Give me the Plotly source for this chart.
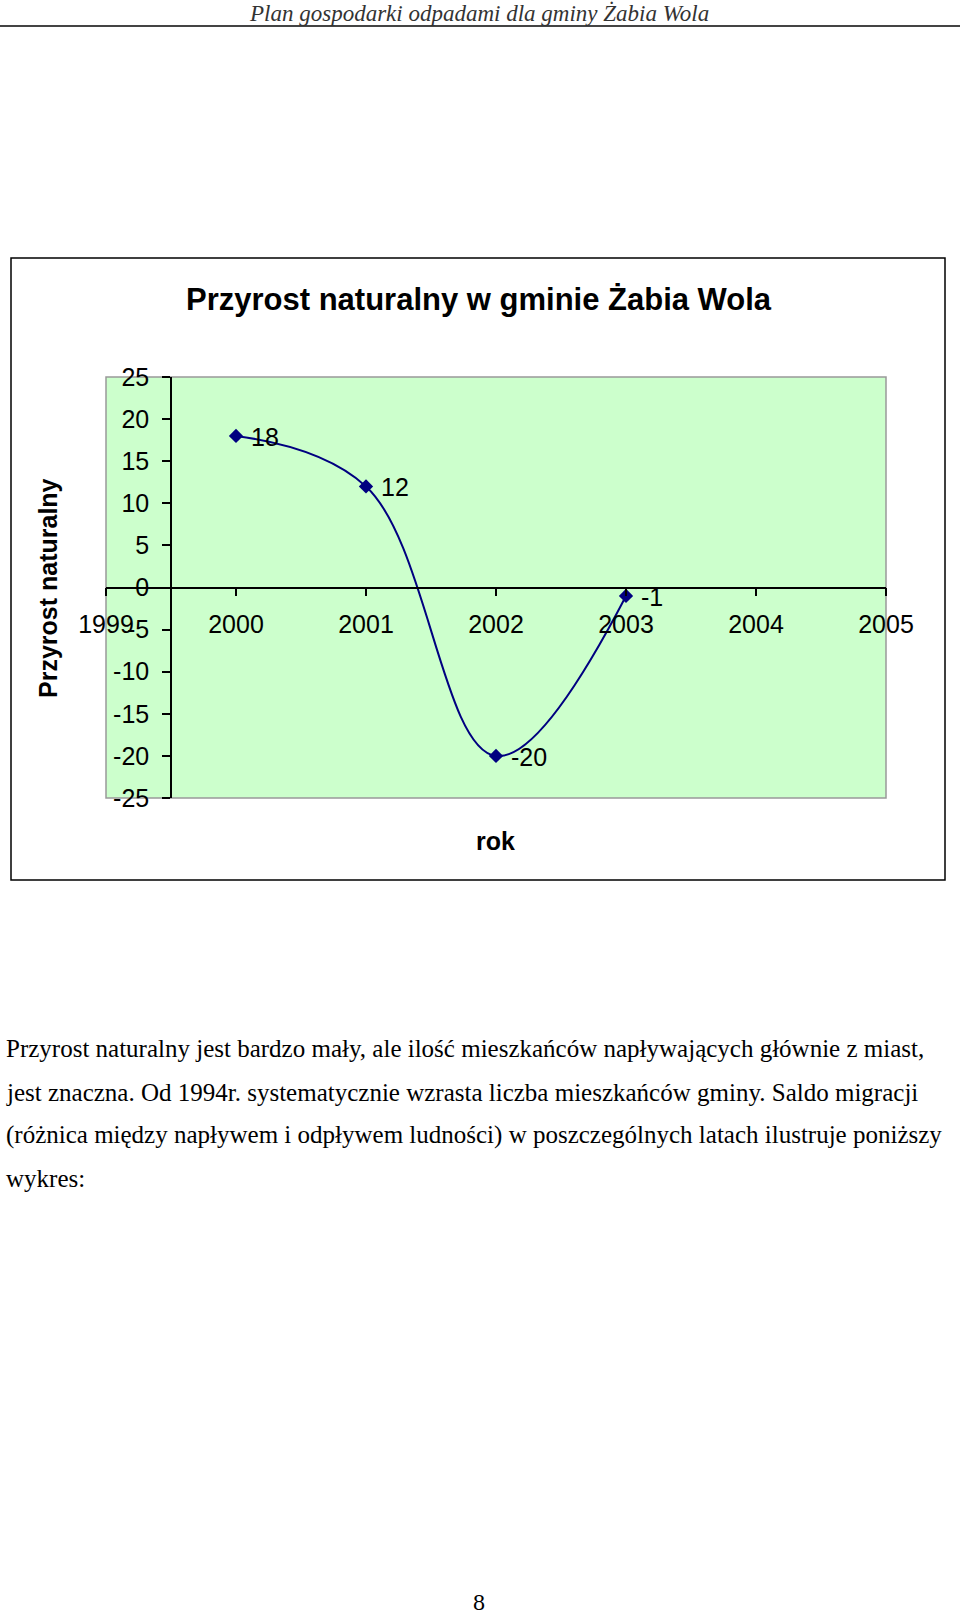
import plotly.graph_objects as go

# ---- data ----
years = [2000, 2001, 2002, 2003]
values = [18, 12, -20, -1]
x_ticks = [1999, 2000, 2001, 2002, 2003, 2004, 2005]
y_ticks = [-25, -20, -15, -10, -5, 0, 5, 10, 15, 20, 25]
chart_title = "Przyrost naturalny w gminie Żabia Wola"
y_title = "Przyrost naturalny"
x_title = "rok"
header = "Plan gospodarki odpadami dla gminy Żabia Wola"
paragraph = [
    "Przyrost naturalny jest bardzo mały, ale ilość mieszkańców napływających głównie z miast,",
    "jest znaczna. Od 1994r. systematycznie wzrasta liczba mieszkańców gminy. Saldo migracji",
    "(różnica między napływem i odpływem ludności) w poszczególnych latach ilustruje poniższy",
    "wykres:",
]
page_no = "8"

W, H = 960, 1617


def px(x):
    return x / W


def py(y):
    return 1 - y / H


x_dom = [px(106), px(886)]
y_dom = [py(798), py(377)]
x_range = [1999, 2005]
y_range = [-25, 25]
y_cross_x = 1999.5  # value axis crosses category axis here

y_axis_pos = x_dom[0] + (y_cross_x - x_range[0]) / (x_range[1] - x_range[0]) * (x_dom[1] - x_dom[0])
x_axis_pos = y_dom[0] + (0 - y_range[0]) / (y_range[1] - y_range[0]) * (y_dom[1] - y_dom[0])

ARIAL = "Arial, Liberation Sans, sans-serif"
SERIF = "Times New Roman, Liberation Serif, serif"

fig = go.Figure()
fig.add_trace(go.Scatter(
    x=years, y=values,
    mode="lines+markers",
    line=dict(color="#000080", width=2, shape="spline", smoothing=1.1),
    marker=dict(symbol="diamond", size=11, color="#000080"),
    cliponaxis=False,
    showlegend=False,
))

fig.update_layout(
    width=W, height=H,
    autosize=False,
    margin=dict(l=0, r=0, t=0, b=0, pad=0, autoexpand=False),
    paper_bgcolor="white",
    plot_bgcolor="#ccffcc",
    showlegend=False,
    xaxis=dict(
        domain=x_dom, range=x_range, automargin=False,
        tickmode="array", tickvals=x_ticks, ticktext=[str(v) for v in x_ticks],
        showgrid=False, zeroline=False,
        showline=True, linecolor="black", linewidth=1.5,
        ticks="outside", ticklen=8, tickcolor="black", tickwidth=1.5,
        anchor="free", position=x_axis_pos,
        ticklabelstandoff=7,
        tickfont=dict(family=ARIAL, size=25, color="black"),
    ),
    yaxis=dict(
        domain=y_dom, range=y_range, automargin=False,
        tickmode="array", tickvals=y_ticks, ticktext=[str(v) for v in y_ticks],
        showgrid=False, zeroline=False,
        showline=True, linecolor="black", linewidth=1.5,
        ticks="outside", ticklen=8, tickcolor="black", tickwidth=1.5,
        anchor="free", position=y_axis_pos,
        ticklabelstandoff=8,
        tickfont=dict(family=ARIAL, size=25, color="black"),
    ),
)

shapes = [
    # header rule
    dict(type="line", xref="paper", yref="paper", x0=0, x1=1, y0=py(26), y1=py(26),
         line=dict(color="#444444", width=2)),
    # chart outer border
    dict(type="rect", xref="paper", yref="paper", x0=px(11), x1=px(945), y0=py(880), y1=py(258),
         line=dict(color="black", width=1.5)),
    # plot area border
    dict(type="rect", xref="x domain", yref="y domain", x0=0, x1=1, y0=0, y1=1,
         line=dict(color="#999999", width=1.5), layer="below"),
]
fig.update_layout(shapes=shapes)

ann = [
    dict(text=header, x=px(479), y=py(13), xref="paper", yref="paper", showarrow=False,
         xanchor="center", yanchor="middle",
         font=dict(family=SERIF, size=23, color="#333333", style="italic")),
    dict(text="<b>" + chart_title + "</b>", x=px(479), y=py(299), xref="paper", yref="paper",
         showarrow=False, xanchor="center", yanchor="middle",
         font=dict(family=ARIAL, size=31, color="black")),
    dict(text="<b>" + y_title + "</b>", x=px(48), y=py(588), xref="paper", yref="paper",
         showarrow=False, xanchor="center", yanchor="middle", textangle=-90,
         font=dict(family=ARIAL, size=25, color="black")),
    dict(text="<b>" + x_title + "</b>", x=px(495), y=py(841), xref="paper", yref="paper",
         showarrow=False, xanchor="center", yanchor="middle",
         font=dict(family=ARIAL, size=25, color="black")),
    dict(text=page_no, x=px(479), y=py(1602), xref="paper", yref="paper", showarrow=False,
         xanchor="center", yanchor="middle",
         font=dict(family=SERIF, size=24, color="black")),
]
# data labels, placed through the data axes
for xv, yv in zip(years, values):
    ann.append(dict(text=str(yv), x=xv, y=yv, xref="x", yref="y", showarrow=False,
                    xanchor="left", yanchor="middle", xshift=13, yshift=-1,
                    font=dict(family=ARIAL, size=25, color="black")))
line_y = [1048, 1092, 1135, 1178]
for t, yy in zip(paragraph, line_y):
    ann.append(dict(text=t, x=px(4), y=py(yy), xref="paper", yref="paper", showarrow=False,
                    xanchor="left", yanchor="middle",
                    font=dict(family=SERIF, size=25, color="black")))
fig.update_layout(annotations=ann)

fig.write_html("out.html")
